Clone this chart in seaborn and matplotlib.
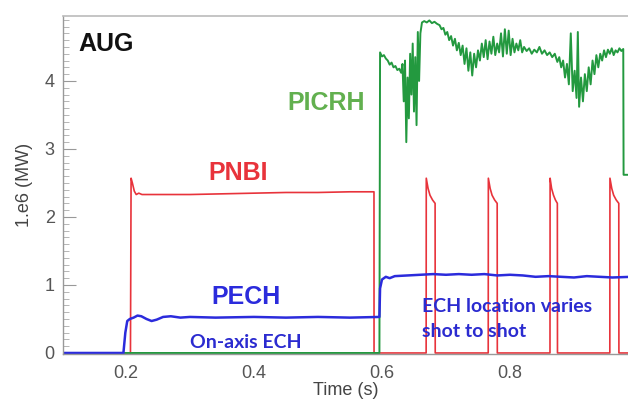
import matplotlib
matplotlib.use('Agg')
import matplotlib.pyplot as plt
from matplotlib.ticker import MultipleLocator
import pandas as pd
import seaborn as sns

# ---------------- data ----------------
# heating powers vs time, units 1e6 W
pech = [(0.10, 0), (0.196, 0), (0.199, 0.30), (0.202, 0.47), (0.206, 0.50), (0.212, 0.52),
        (0.218, 0.55), (0.224, 0.54), (0.232, 0.50), (0.240, 0.47), (0.248, 0.49), (0.258, 0.53),
        (0.270, 0.54), (0.285, 0.52), (0.30, 0.53), (0.34, 0.52), (0.40, 0.53), (0.45, 0.52),
        (0.50, 0.53), (0.55, 0.52), (0.596, 0.53), (0.597, 0.95), (0.600, 1.08), (0.606, 1.12),
        (0.612, 1.10), (0.620, 1.13), (0.640, 1.14), (0.660, 1.15), (0.680, 1.16), (0.700, 1.15),
        (0.720, 1.16), (0.740, 1.15), (0.760, 1.16), (0.780, 1.14), (0.800, 1.15), (0.820, 1.14),
        (0.840, 1.12), (0.860, 1.13), (0.880, 1.12), (0.900, 1.11), (0.920, 1.13), (0.940, 1.12),
        (0.960, 1.11), (0.99, 1.12)]

pnbi = [(0.10, 0), (0.207, 0), (0.208, 2.57), (0.210, 2.50), (0.213, 2.38), (0.216, 2.33),
        (0.220, 2.35), (0.225, 2.33), (0.25, 2.33), (0.30, 2.33), (0.35, 2.34), (0.40, 2.35),
        (0.45, 2.36), (0.50, 2.36), (0.55, 2.37), (0.5875, 2.37), (0.5876, 0),
        (0.669, 0), (0.6692, 2.57), (0.672, 2.42), (0.675, 2.32), (0.679, 2.25), (0.683, 2.20), (0.6832, 0),
        (0.766, 0), (0.7662, 2.57), (0.769, 2.42), (0.772, 2.32), (0.776, 2.25), (0.780, 2.20), (0.7802, 0),
        (0.8625, 0), (0.8627, 2.57), (0.865, 2.42), (0.868, 2.32), (0.871, 2.25), (0.874, 2.20), (0.8742, 0),
        (0.956, 0), (0.9562, 2.57), (0.959, 2.42), (0.962, 2.32), (0.966, 2.25), (0.970, 2.20), (0.9702, 0),
        (0.99, 0)]

picrh = [(0.10, 0), (0.596, 0), (0.597, 4.42), (0.600, 4.36), (0.603, 4.38), (0.606, 4.33),
         (0.609, 4.30), (0.612, 4.24), (0.615, 4.27), (0.618, 4.20), (0.621, 4.22), (0.624, 4.16),
         (0.627, 4.18), (0.630, 4.12), (0.632, 4.25), (0.634, 3.70), (0.636, 4.30), (0.638, 3.10),
         (0.640, 4.05), (0.642, 3.45), (0.644, 4.40), (0.646, 3.80), (0.648, 4.55), (0.650, 3.55),
         (0.652, 4.35), (0.654, 3.35), (0.656, 4.72), (0.658, 4.00), (0.660, 4.70), (0.6625, 4.86),
         (0.666, 4.88), (0.670, 4.86), (0.674, 4.89), (0.678, 4.85), (0.682, 4.87), (0.686, 4.84),
         (0.690, 4.82), (0.693, 4.76), (0.696, 4.78), (0.699, 4.68), (0.702, 4.72), (0.705, 4.60),
         (0.708, 4.66), (0.711, 4.52), (0.714, 4.62), (0.717, 4.45), (0.720, 4.56), (0.723, 4.38),
         (0.726, 4.52), (0.729, 4.25), (0.732, 4.48), (0.735, 4.15), (0.738, 4.42), (0.741, 4.08),
         (0.744, 4.40), (0.747, 4.20), (0.750, 4.45), (0.753, 4.30), (0.756, 4.55), (0.759, 4.35),
         (0.762, 4.60), (0.765, 4.32), (0.768, 4.58), (0.771, 4.40), (0.774, 4.65), (0.777, 4.38),
         (0.780, 4.55), (0.783, 4.42), (0.786, 4.70), (0.789, 4.36), (0.792, 4.76), (0.795, 4.40),
         (0.798, 4.74), (0.801, 4.38), (0.804, 4.62), (0.807, 4.42), (0.810, 4.55), (0.813, 4.45),
         (0.816, 4.60), (0.819, 4.42), (0.822, 4.50), (0.826, 4.44), (0.830, 4.48), (0.834, 4.40),
         (0.838, 4.46), (0.842, 4.42), (0.846, 4.50), (0.850, 4.40), (0.854, 4.45), (0.858, 4.38),
         (0.862, 4.42), (0.866, 4.35), (0.870, 4.40), (0.874, 4.28), (0.877, 4.35), (0.880, 4.20),
         (0.883, 4.30), (0.886, 4.05), (0.889, 4.25), (0.892, 3.95), (0.895, 4.70), (0.898, 3.85),
         (0.901, 4.15), (0.904, 3.75), (0.906, 4.72), (0.908, 3.62), (0.911, 4.05), (0.914, 3.70),
         (0.917, 4.10), (0.920, 3.85), (0.923, 4.20), (0.926, 3.95), (0.929, 4.30), (0.932, 4.10),
         (0.935, 4.38), (0.938, 4.20), (0.941, 4.40), (0.944, 4.30), (0.947, 4.45), (0.950, 4.35),
         (0.953, 4.46), (0.956, 4.40), (0.959, 4.48), (0.962, 4.38), (0.965, 4.45), (0.968, 4.42),
         (0.971, 4.48), (0.974, 4.44), (0.977, 4.47), (0.9775, 2.62), (0.99, 2.62)]

y_ticks = [0, 1, 2, 3, 4]
x_ticks = [0.2, 0.4, 0.6, 0.8]


def to_df(pairs):
    return pd.DataFrame(pairs, columns=['t', 'p'])


# ---------------- figure ----------------
sns.set_theme(style='white')
plt.rcParams['font.family'] = ['Liberation Sans', 'DejaVu Sans']

fig = plt.figure(figsize=(6.28, 4.0), dpi=100)
ax = fig.add_axes([63 / 628, 46 / 400, 565 / 628, 338 / 400])

line_kw = dict(x='t', y='p', estimator=None, sort=False, ax=ax, legend=False)
sns.lineplot(data=to_df(pnbi), color='#e8333b', linewidth=1.2, **line_kw)
sns.lineplot(data=to_df(picrh), color='#23993f', linewidth=1.4, **line_kw)
sns.lineplot(data=to_df(pech), color='#2b2bdc', linewidth=1.8, **line_kw)

ax.set_xlim(0.1016, 0.9844)
ax.set_ylim(-0.015, 4.955)
ax.set_xticks(x_ticks)
ax.set_xticklabels([f'{v:.1f}' for v in x_ticks])
ax.set_yticks(y_ticks)
ax.yaxis.set_minor_locator(MultipleLocator(0.1))
ax.tick_params(axis='x', length=0, labelsize=13, labelcolor='#555555', pad=8)
ax.tick_params(axis='y', which='major', direction='in', length=9, width=0.8,
               color='#999999', labelsize=13, labelcolor='#555555', pad=6, left=True)
ax.tick_params(axis='y', which='minor', direction='in', length=4, width=0.6,
               color='#aaaaaa', left=True)

for side in ['left', 'bottom']:
    ax.spines[side].set_color('#999999')
    ax.spines[side].set_linewidth(1.0)
ax.spines['top'].set_color('#bbbbbb')
ax.spines['top'].set_linewidth(1.2)
ax.spines['right'].set_visible(False)

ax.set_xlabel('Time (s)', fontsize=13, color='#444444', labelpad=0)
ax.set_ylabel('1.e6 (MW)', fontsize=13, color='#444444', labelpad=8)

# annotations
ax.text(0.125, 4.54, 'AUG', fontsize=18, fontweight='bold', color='#111111',
        ha='left', va='center')
ax.text(0.452, 3.68, 'PICRH', fontsize=18, fontweight='bold', color='#62b04f',
        ha='left', va='center')
ax.text(0.328, 2.65, 'PNBI', fontsize=18, fontweight='bold', color='#e8333b',
        ha='left', va='center')
ax.text(0.334, 0.82, 'PECH', fontsize=18, fontweight='bold', color='#2b2bdc',
        ha='left', va='center')
ax.text(0.300, 0.16, 'On-axis ECH', fontsize=14, fontweight='bold', color='#2b2bd0',
        ha='left', va='center', family=['Lato', 'DejaVu Sans'])
ax.text(0.6625, 0.69, 'ECH location varies', fontsize=14, fontweight='bold', color='#2b2bd0',
        ha='left', va='center', family=['Lato', 'DejaVu Sans'])
ax.text(0.6625, 0.31, 'shot to shot', fontsize=14, fontweight='bold', color='#2b2bd0',
        ha='left', va='center', family=['Lato', 'DejaVu Sans'])

fig.savefig('out.png', dpi=100)
plt.close(fig)
